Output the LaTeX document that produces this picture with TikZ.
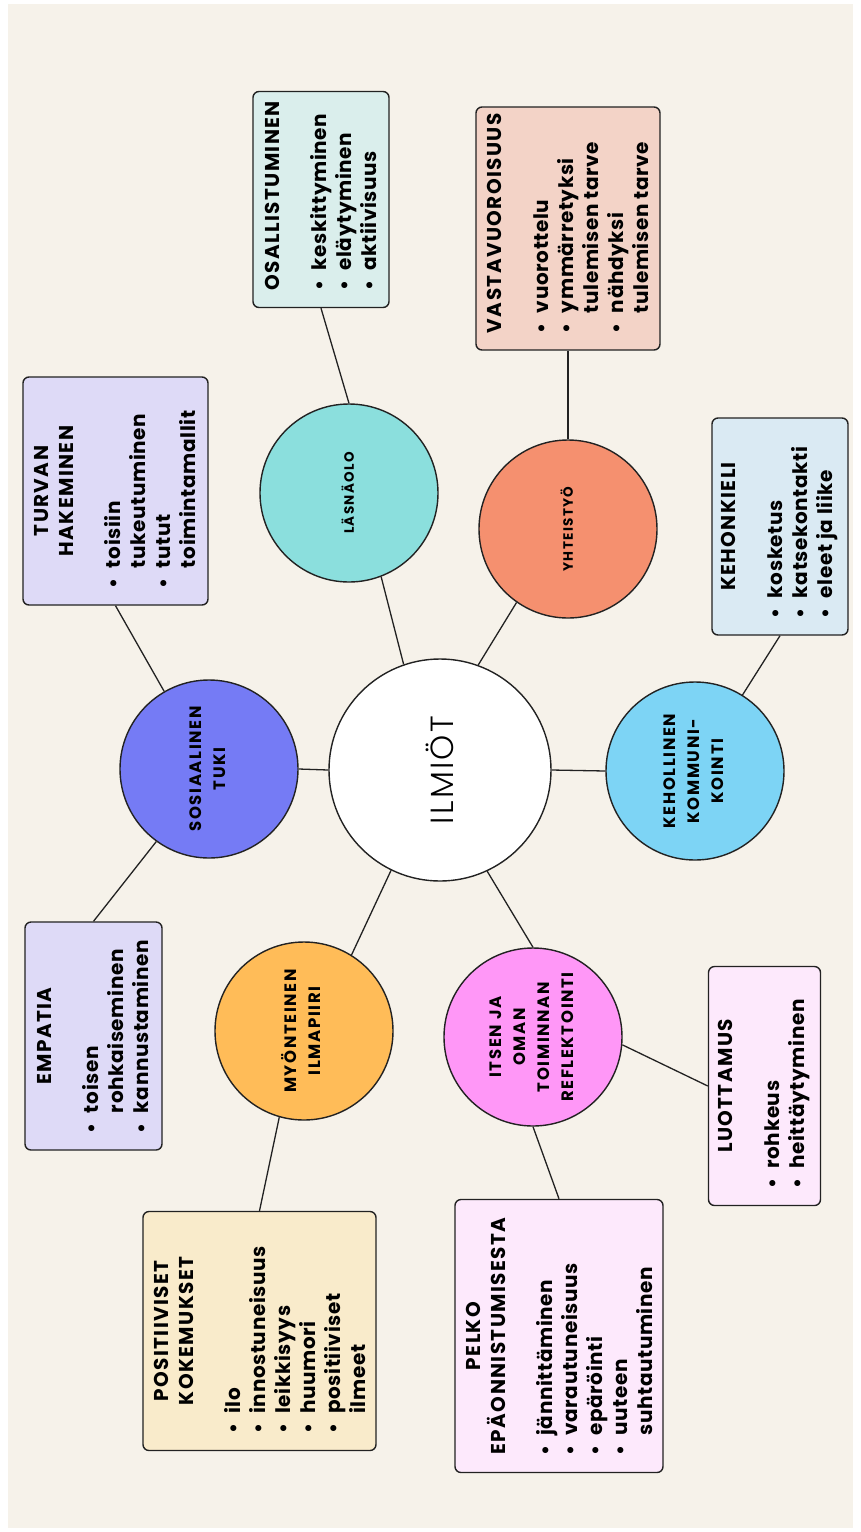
\documentclass[tikz,border=0pt]{standalone}
\usepackage{fontspec}
\setmainfont{Poppins}
\newfontfamily\headfont{Poppins}[LetterSpace=7]
\newfontfamily\bodyfont{Poppins}[LetterSpace=3]
\newfontfamily\circfont{Poppins}[LetterSpace=10]
\newfontfamily\lightfont{Poppins Light}[LetterSpace=7]
\usepackage{graphicx}
\definecolor{bgc}{HTML}{F6F2EA}
\definecolor{linec}{HTML}{222222}
\definecolor{cLas}{HTML}{8BDFDD}
\definecolor{cYht}{HTML}{F5906F}
\definecolor{cKeh}{HTML}{7DD4F5}
\definecolor{cSos}{HTML}{757BF5}
\definecolor{cMyo}{HTML}{FFBC58}
\definecolor{cIts}{HTML}{FF97F7}
\definecolor{bOsa}{HTML}{DAEEEC}
\definecolor{bVas}{HTML}{F3D3C7}
\definecolor{bTur}{HTML}{DEDAF7}
\definecolor{bKeh}{HTML}{DAEAF3}
\definecolor{bLuo}{HTML}{FDE9FC}
\definecolor{bPos}{HTML}{F9EBCB}
\newcommand{\itm}[1]{\par\hangindent=20pt\hangafter=1\noindent\makebox[20pt][l]{\textbullet}#1}
\newcommand{\boxtext}[3]{\rotatebox{90}{\begin{minipage}{#1pt}\fontsize{20}{25}\selectfont\bfseries\raggedright
{\centering\headfont\bfseries #2\par}\vspace{22pt}\bodyfont\bfseries #3\par\end{minipage}}}
\newcommand{\circtext}[2][16.5]{\rotatebox{90}{\circfont\bfseries\fontsize{#1}{24}\selectfont\begin{tabular}{@{}c@{}}#2\end{tabular}}}
\begin{document}
\begin{tikzpicture}[x=1pt,y=-1pt,
  box/.style={draw=linec, line width=1.4pt, rounded corners=6pt, inner sep=0pt},
  circ/.style={circle, draw=linec, line width=1.4pt, inner sep=0pt, minimum size=178pt},
  conn/.style={draw=linec, line width=1.3pt}]
\fill[white] (0,0) rectangle (861,1532);
\fill[bgc] (8,4) rectangle (853,1528);
% centre
\node[circle, draw=linec, line width=1.4pt, fill=white, minimum size=222pt, inner sep=0pt] (ilm) at (440,770)
  {\rotatebox{90}{\lightfont\fontsize{32}{36}\selectfont ILMIÖT}};
% circles
\node[circ, fill=cLas] (las) at (349,493) {\circtext[13.5]{LÄSNÄOLO}};
\node[circ, fill=cYht] (yht) at (568,529) {\circtext[13.5]{YHTEISTYÖ}};
\node[circ, fill=cKeh] (keh) at (695,771) {\circtext{KEHOLLINEN\\KOMMUNI-\\KOINTI}};
\node[circ, fill=cSos] (sos) at (209,769) {\circtext{SOSIAALINEN\\TUKI}};
\node[circ, fill=cMyo] (myo) at (304,1031) {\circtext{MYÖNTEINEN\\ILMAPIIRI}};
\node[circ, fill=cIts] (its) at (533,1037) {\circtext{ITSEN JA\\OMAN\\TOIMINNAN\\REFLEKTOINTI}};
% boxes
\node[box, fill=bOsa, minimum width=136pt, minimum height=216pt] (osa) at (321,199.5)
  {\boxtext{182}{OSALLISTUMINEN}{\itm{keskittyminen}\itm{eläytyminen}\itm{aktiivisuus}}};
\node[box, fill=bVas, minimum width=184pt, minimum height=243pt] (vas) at (568,228.5)
  {\boxtext{209}{VASTAVUOROISUUS}{\itm{vuorottelu}\itm{ymmärretyksi\newline tulemisen tarve}\itm{nähdyksi\newline tulemisen tarve}}};
\node[box, fill=bTur, minimum width=185pt, minimum height=228pt] (tur) at (115.5,491)
  {\boxtext{194}{TURVAN\\HAKEMINEN}{\itm{toisiin\newline tukeutuminen}\itm{tutut\newline toimintamallit}}};
\node[box, fill=bKeh, minimum width=136pt, minimum height=217pt] (kek) at (780,526.5)
  {\boxtext{183}{KEHONKIELI}{\itm{kosketus}\itm{katsekontakti}\itm{eleet ja liike}}};
\node[box, fill=bTur, minimum width=137pt, minimum height=228pt] (emp) at (93.5,1036)
  {\boxtext{194}{EMPATIA}{\itm{toisen\newline rohkaiseminen}\itm{kannustaminen}}};
\node[box, fill=bLuo, minimum width=112pt, minimum height=239pt] (luo) at (764.5,1086)
  {\boxtext{205}{LUOTTAMUS}{\itm{rohkeus}\itm{heittäytyminen}}};
\node[box, fill=bPos, minimum width=233pt, minimum height=239pt] (pos) at (259.5,1331)
  {\boxtext{205}{POSITIIVISET\\KOKEMUKSET}{\itm{ilo}\itm{innostuneisuus}\itm{leikkisyys}\itm{huumori}\itm{positiiviset\newline ilmeet}}};
\node[box, fill=bLuo, minimum width=208pt, minimum height=273pt] (pel) at (559,1336)
  {\boxtext{239}{PELKO\\EPÄONNISTUMISESTA}{\itm{jännittäminen}\itm{varautuneisuus}\itm{epäröinti}\itm{uuteen\newline suhtautuminen}}};
% connectors
\draw[conn] (osa.south) -- (las.north);
\draw[conn] (vas.south) -- (yht.north);
\draw[conn] (tur.south) -- (sos.120);
\draw[conn] (kek.south) -- (keh.58);
\draw[conn] (emp.north) -- (sos.234);
\draw[conn] (myo.254) -- (pos.north);
\draw[conn] (its.south) -- (pel.north);
\draw[conn] (its.-5) -- (luo.west);
\draw[conn] (ilm.west) -- (sos.east);
\draw[conn] (ilm.east) -- (keh.west);
\draw[conn] (ilm.109) -- (las.291);
\draw[conn] (ilm.70) -- (yht.235);
\draw[conn] (ilm.244) -- (myo.58);
\draw[conn] (ilm.295) -- (its.north);
\end{tikzpicture}
\end{document}
